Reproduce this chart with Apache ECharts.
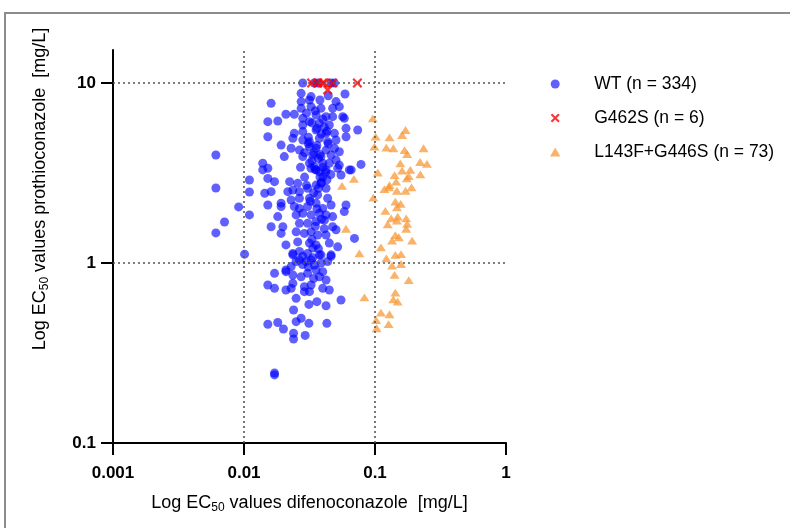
<!DOCTYPE html>
<html>
<head>
<meta charset="utf-8">
<script src="https://cdn.jsdelivr.net/npm/echarts@6/dist/echarts.min.js"></script>
<style>
html,body{margin:0;padding:0;background:#fff;}
#chart{width:790px;height:528px;}
</style>
</head>
<body>
<div id="chart"></div>
<script>
// ---- data (EC50 values, mg/L): [difenoconazole, prothioconazole] ----
const wtPoints = [
 [0.0061,3.98],[0.0110,2.89],[0.0061,2.61],[0.0110,2.48],[0.0091,2.05],[0.0110,1.85],[0.0071,1.69],[0.0061,1.47],[0.0101,1.12],
 [0.0281,10],[0.0344,10],[0.0365,10],[0.0462,10],[0.049,10],
 [0.0273,8.76],[0.0325,8.4],[0.044,8.5],[0.059,8.69],[0.0161,7.71],[0.0273,7.88],[0.0316,8.04],[0.038,8.04],[0.0504,7.88],[0.0534,7.39],
 [0.0273,7.23],[0.0325,7.39],[0.0387,7.23],[0.0475,7.23],[0.0209,6.7],[0.0242,6.7],[0.0152,6.1],[0.0181,6.15],[0.0281,6.36],[0.0355,6.64],
 [0.0423,6.5],[0.0475,6.5],[0.0567,6.5],[0.0583,6.36],[0.0281,5.84],[0.0316,6.1],[0.0376,5.97],[0.0448,5.84],[0.0601,5.6],[0.0738,5.48],
 [0.0152,5.03],[0.0242,5.25],[0.0281,5.37],[0.0355,5.48],[0.0423,5.25],[0.049,5.25],[0.0601,5.03],[0.0192,4.52],[0.0236,4.93],[0.0281,4.82],
 [0.0316,4.72],[0.0376,4.93],[0.0435,4.72],[0.0504,4.82],[0.0229,4.34],[0.0265,4.24],[0.0316,4.43],[0.0355,4.34],[0.0423,4.24],[0.049,4.34],
 [0.0534,4.15],[0.0203,3.9],[0.0281,3.9],[0.0335,3.98],[0.0387,3.9],[0.0462,3.98],[0.0504,3.73],[0.0139,3.58],[0.0316,3.58],[0.0399,3.58],
 [0.0448,3.58],[0.0534,3.5],[0.0782,3.53],[0.0152,3.36],[0.0344,3.43],[0.0637,3.29],[0.0139,3.29],
 [0.0152,2.95],[0.0171,2.83],[0.0325,3.36],[0.0355,3.29],[0.0376,3.22],[0.0423,3.29],[0.0519,3.36],[0.0658,3.29],[0.055,3.08],[0.0144,2.44],
 [0.0161,2.49],[0.0223,2.83],[0.0257,2.77],[0.0216,2.49],[0.0236,2.54],[0.0265,2.49],[0.0306,2.6],[0.0355,2.71],[0.0387,2.77],[0.0423,2.6],
 [0.0229,2.24],[0.0265,2.29],[0.0316,2.29],[0.0365,2.39],[0.0435,2.29],[0.0601,2.1],[0.0583,1.93],[0.0152,2.1],[0.0192,2.15],[0.0192,2.06],
 [0.0242,2.06],[0.0265,2.01],[0.0306,2.06],[0.0355,2.15],[0.0399,2.01],[0.0462,2.1],[0.0181,1.81],[0.025,1.85],[0.0281,1.89],[0.0325,1.85],
 [0.0376,1.89],[0.0423,1.85],[0.0475,1.81],[0.0161,1.59],[0.0198,1.59],[0.0265,1.66],[0.0306,1.66],[0.0355,1.7],[0.0411,1.73],[0.0475,1.59],
 [0.0192,1.46],[0.025,1.49],[0.0289,1.46],[0.0325,1.49],[0.0365,1.43],[0.0423,1.43],[0.0504,1.53],[0.0697,1.37],[0.0209,1.26],[0.0257,1.31],
 [0.0316,1.29],[0.0355,1.26],[0.0448,1.29],[0.0519,1.23],[0.0236,1.13],[0.0265,1.16],[0.0306,1.13],[0.0387,1.11],[0.0462,1.11],[0.0335,1.21],
 [0.0236,1.11],[0.0281,1.09],[0.0335,1.07],[0.0376,1.11],[0.0462,1.09],[0.0435,1.02],[0.0209,0.914],[0.0229,0.955],[0.025,1.02],[0.0265,1.04],
 [0.0298,1.02],[0.0325,1.04],[0.0344,0.975],[0.0387,1.0],[0.0171,0.876],[0.0209,0.895],[0.0236,0.858],[0.0273,0.839],[0.0306,0.876],[0.0355,0.914],
 [0.0399,0.895],[0.0376,0.839],[0.0423,0.804],[0.0152,0.755],[0.0171,0.723],[0.0209,0.708],[0.0236,0.771],[0.0229,0.723],[0.0289,0.739],[0.0325,0.755],
 [0.0289,0.693],[0.0316,0.693],[0.0399,0.723],[0.0448,0.708],[0.025,0.636],[0.055,0.623],[0.0313,0.589],[0.036,0.61],[0.0423,0.579],[0.0239,0.548],
 [0.0273,0.493],[0.025,0.472],[0.0152,0.457],[0.0181,0.467],[0.02,0.43],[0.0313,0.462],[0.0429,0.462],[0.0239,0.407],[0.0293,0.396],[0.0239,0.378],
 [0.0171,0.245],[0.0171,0.239],
 [0.033,6.0],[0.036,5.6],[0.039,5.2],[0.031,4.6],[0.034,4.1],[0.037,3.8],[0.040,3.4],[0.042,3.2],[0.038,3.0],[0.035,3.3],
 [0.033,3.7],[0.029,4.1],[0.031,5.0],[0.041,5.7],[0.044,4.6],[0.036,4.5],[0.038,4.0],[0.040,3.0],[0.043,2.9],[0.039,2.8],
 [0.037,2.6],[0.034,2.45],[0.032,2.2],[0.036,2.0],[0.039,1.75],[0.035,1.6],[0.033,1.35],[0.037,1.2],[0.031,0.95],[0.034,0.82],
 [0.028,0.98],[0.041,1.55],[0.029,3.0],[0.027,3.4],[0.030,6.8],[0.035,7.0],[0.040,6.3],[0.043,5.4],[0.046,3.1],[0.030,2.7]
];
const g462sPoints = [[0.0328,10],[0.0364,10],[0.0398,10],[0.041,10],[0.0474,10],[0.0734,10],[0.0435,9.15]];
const l143fPoints = [
 [0.0962,6.36],[0.171,5.48],[0.161,5.14],[0.129,4.99],[0.101,5.03],[0.099,4.43],[0.122,4.37],[0.138,4.34],[0.168,4.24],[0.176,4.03],
 [0.235,4.34],[0.221,3.64],[0.249,3.55],[0.156,3.58],[0.105,3.18],[0.141,3.08],[0.161,3.26],[0.186,3.29],[0.181,3.04],[0.175,2.95],
 [0.222,3.11],[0.145,2.83],[0.129,2.71],[0.118,2.57],[0.128,2.63],[0.147,2.52],[0.171,2.52],[0.19,2.63],[0.097,2.31],[0.143,2.19],
 [0.157,2.13],[0.147,2.04],[0.120,1.95],[0.133,1.77],[0.125,1.64],[0.149,1.81],[0.147,1.72],[0.173,1.77],[0.176,1.65],[0.173,1.55],
 [0.143,1.43],[0.152,1.39],[0.135,1.33],[0.192,1.33],[0.111,1.22],[0.143,1.11],[0.122,1.06],[0.158,1.12],[0.158,0.987],[0.135,0.966],
 [0.141,0.858],[0.181,0.804],[0.143,0.684],[0.138,0.628],[0.149,0.610],[0.111,0.530],[0.129,0.519],[0.102,0.482],[0.127,0.458],[0.103,0.434],
 [0.083,0.645],[0.076,1.13],[0.060,1.55],[0.069,2.93],[0.056,2.68]
];
const seriesNames = ['WT (n = 334)', 'G462S (n = 6)', 'L143F+G446S (n = 73)'];
const xTicks = [0.001, 0.01, 0.1, 1];
const yTicks = [0.1, 1, 10];
const xGridValues = [0.01, 0.1];
const yGridValues = [1, 10];

const FONT = '"Liberation Sans", Arial, sans-serif';
const crossPath = 'path://M0,1.6L1.6,0L5,3.4L8.4,0L10,1.6L6.6,5L10,8.4L8.4,10L5,6.6L1.6,10L0,8.4L3.4,5Z';
const trianglePath = 'path://M5,0L10,8.66L0,8.66Z';

function fmt(v){ return String(Number(v.toPrecision(6))); }

const chart = echarts.init(document.getElementById('chart'), null, {renderer:'canvas'});
chart.setOption({
  animation: false,
  backgroundColor: '#fff',
  grid: {left: 113, top: 50, right: 284, bottom: 85},
  graphic: [
    {type:'rect', shape:{x:5, y:13, width:900, height:700}, style:{fill:'none', stroke:'#8c8c8c', lineWidth:2}, silent:true, z:-10},
    {type:'text', x:40, y:189, rotation: Math.PI/2,
     style:{text:'Log EC{sub|50} values prothioconazole  [mg/L]', font:'18px ' + FONT, fill:'#000', align:'center', verticalAlign:'middle',
       rich:{sub:{fontSize:12, fontFamily:FONT, fill:'#000', padding:[10,0,0,0]}}}}
  ],
  legend: {
    data: seriesNames, orient:'vertical', left: 545, top: 69,
    itemWidth: 68, itemHeight: 9, itemGap: 14, symbolKeepAspect: true,
    textStyle: {fontSize: 17.5, fontFamily: FONT, color:'#000', lineHeight: 20},
    selectedMode: false
  },
  xAxis: {
    type:'log', logBase:10, min:0.001, max:1,
    name:'Log EC{sub|50} values difenoconazole  [mg/L]', nameLocation:'middle', nameGap:49,
    nameTextStyle:{fontSize:18, fontFamily:FONT, color:'#000',
      rich:{sub:{fontSize:12, fontFamily:FONT, color:'#000', padding:[10,0,0,0]}}},
    axisLine:{show:true, lineStyle:{color:'#000', width:2}},
    axisTick:{show:true, length:12, lineStyle:{color:'#000', width:2}},
    axisLabel:{fontSize:17, fontWeight:'bold', fontFamily:FONT, color:'#000', margin:22, formatter: v => fmt(v)},
    splitLine:{show:false}, minorTick:{show:false}
  },
  yAxis: {
    type:'log', logBase:10, min:0.1, max:15.25,
    axisLine:{show:true, lineStyle:{color:'#000', width:2}},
    axisTick:{show:true, length:12, lineStyle:{color:'#000', width:2}, customValues: yTicks},
    axisLabel:{fontSize:17, fontWeight:'bold', fontFamily:FONT, color:'#000', margin:17, customValues: yTicks, formatter: v => fmt(v)},
    splitLine:{show:false}, minorTick:{show:false}
  },
  series: [
    {type:'scatter', name:'grid', data:[], z:1, silent:true,
     markLine:{silent:true, symbol:['none','none'], animation:false, label:{show:false},
       lineStyle:{color:'#555', width:1.6, type:[2,3]},
       emphasis:{disabled:true},
       data: xGridValues.map(v => ({xAxis:v})).concat(yGridValues.map(v => ({yAxis:v})))}},
    {type:'scatter', name:seriesNames[0], data:wtPoints, symbol:'circle', symbolSize:9, z:2,
     itemStyle:{color:'rgba(0,0,255,0.78)'}},
    {type:'scatter', name:seriesNames[2], data:l143fPoints, symbol:trianglePath, symbolSize:[10,9], symbolKeepAspect:true, z:3,
     itemStyle:{color:'rgba(247,150,50,0.9)'}},
    {type:'scatter', name:seriesNames[1], data:g462sPoints, symbol:crossPath, symbolSize:10, z:4,
     itemStyle:{color:'#ff0000'}}
  ]
});
</script>
</body>
</html>
